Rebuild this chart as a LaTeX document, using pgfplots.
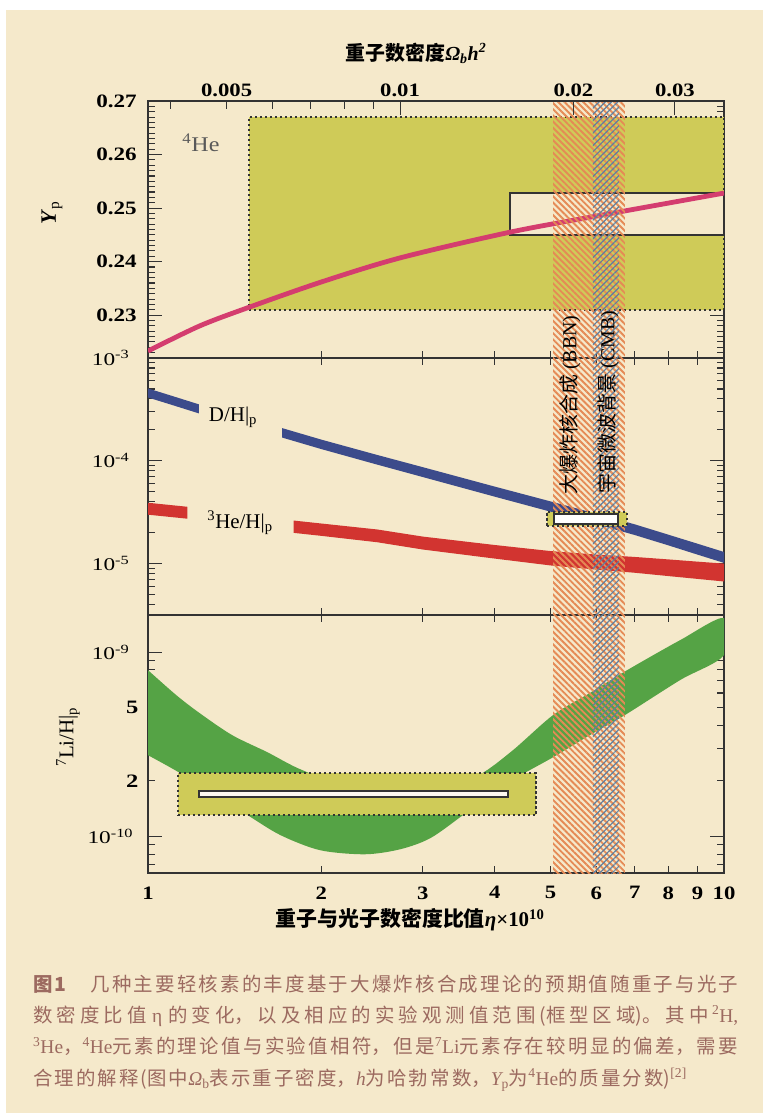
\documentclass[border=0pt]{standalone}
\usepackage{fontspec}
\setmainfont{Liberation Serif}
\newfontfamily\cjk{Noto Sans CJK SC}
\usepackage{pgfplots}
\pgfplotsset{compat=1.18}
\usetikzlibrary{patterns.meta}
\XeTeXlinebreaklocale "zh"
\XeTeXlinebreakskip=2.1bp plus 3bp minus 1bp
\definecolor{bg}{HTML}{F5E9CB}
\definecolor{ybox}{HTML}{CFCB58}
\definecolor{lgreen}{HTML}{55A345}
\definecolor{pinkc}{HTML}{D43D6F}
\definecolor{dhblue}{HTML}{3C4B8B}
\definecolor{hered}{HTML}{D23430}
\definecolor{hatchor}{HTML}{E58A55}
\definecolor{hatchbl}{HTML}{5F7FA0}
\definecolor{captc}{HTML}{9C6A60}
\definecolor{axc}{HTML}{333333}
\newcommand\fs[1]{\fontsize{#1}{#1}\selectfont}
\tikzset{
  myboxd/.style={draw=axc, line width=1.7bp, dash pattern=on 2.2bp off 2.8bp, fill=ybox},
  myboxs/.style={draw=axc, line width=1.6bp},
}
\begin{document}
\begin{tikzpicture}
\fill[white] (0,0) rectangle (763bp,-1118bp);
\fill[bg] (6bp,-10bp) rectangle (763bp,-1113bp);

% ---------- panel 1 : Yp
\begin{axis}[scale only axis, width=576bp, height=257bp, anchor=north west, at={(148bp,-101bp)},
  xmode=log, xmin=1, xmax=10,
  axis line style={axc, line width=1.4bp}, tick style={axc, line width=1.1bp},
  tick align=inside, major tick length=14bp, minor tick length=7bp,
  xtick={1,10}, xticklabels={}, minor xtick={2,3,4,5,6,7,8,9}, xtick pos=left,
  ymin=0.222, ymax=0.27,
  ytick={0.23,0.24,0.25,0.26,0.27}, yticklabels={0.23,0.24,0.25,0.26,0.27},
  minor ytick={0.223,0.224,0.225,0.226,0.227,0.228,0.229,0.231,0.232,0.233,0.234,0.235,0.236,0.237,0.238,0.239,0.241,0.242,0.243,0.244,0.245,0.246,0.247,0.248,0.249,0.251,0.252,0.253,0.254,0.255,0.256,0.257,0.258,0.259,0.261,0.262,0.263,0.264,0.265,0.266,0.267,0.268,0.269},
  yticklabel style={font=\bfseries\fs{19}, xshift=-7bp, xscale=1.22}]
\addplot[myboxd] coordinates {(1.497,0.231) (10,0.231) (10,0.267) (1.497,0.267)} -- cycle;
\addplot[myboxs, fill=bg] coordinates {(4.25,0.245) (10,0.245) (10,0.2528) (4.25,0.2528)} -- cycle;
\addplot[pinkc, line width=4.8bp, smooth] coordinates {(1,0.2233) (1.23,0.2280) (1.5,0.2315) (2,0.2362) (2.74,0.2407) (4.25,0.2455) (6,0.2485) (10,0.2528)};
\end{axis}

% ---------- panel 2 : D/H, 3He/H
\begin{axis}[scale only axis, width=576bp, height=257bp, anchor=north west, at={(148bp,-358bp)},
  xmode=log, xmin=1, xmax=10,
  axis line style={axc, line width=1.4bp}, tick style={axc, line width=1.1bp},
  tick align=inside, major tick length=14bp, minor tick length=7bp,
  xtick={1,10}, xticklabels={}, minor xtick={2,3,4,5,6,7,8,9},
  ymode=log, ymin=3.162e-6, ymax=1e-3,
  ytick={1e-5,1e-4,1e-3},
  yticklabels={10\textsuperscript{-5},10\textsuperscript{-4},10\textsuperscript{-3}},
  minor ytick={4e-6,5e-6,6e-6,7e-6,8e-6,9e-6,2e-5,3e-5,4e-5,5e-5,6e-5,7e-5,8e-5,9e-5,2e-4,3e-4,4e-4,5e-4,6e-4,7e-4,8e-4,9e-4},
  yticklabel style={font=\fs{18}, xshift=-14bp, xscale=1.3}]
\addplot[draw=none, fill=dhblue] coordinates {(1,5.058e-4) (1.1,4.285e-4) (1.226,3.540e-4) (1.226,2.891e-4) (1.1,3.499e-4) (1,4.130e-4)} -- cycle;
\addplot[draw=none, fill=dhblue] coordinates {(1.71,2.080e-4) (2,1.607e-4) (2.5,1.140e-4) (3,8.670e-5) (4,5.610e-5) (5,4.027e-5) (6,3.062e-5) (7,2.410e-5) (8,1.914e-5) (9,1.560e-5) (10,1.297e-5)
 (10,1.016e-5) (9,1.222e-5) (8,1.507e-5) (7,1.897e-5) (6,2.421e-5) (5,3.199e-5) (4,4.477e-5) (3,6.950e-5) (2.5,9.183e-5) (2,1.300e-4) (1.71,1.683e-4)} -- cycle;
\addplot[draw=none, fill=hered] coordinates {(1,3.908e-5) (1.17,3.573e-5) (1.17,2.735e-5) (1,2.992e-5)} -- cycle;
\addplot[draw=none, fill=hered] coordinates {(1.79,2.624e-5) (2,2.455e-5) (2.5,2.148e-5) (3,1.832e-5) (4,1.517e-5) (5,1.324e-5) (6,1.225e-5) (7,1.161e-5) (8,1.099e-5) (9,1.045e-5) (10,1.000e-5)
 (10,6.699e-6) (9,7.096e-6) (8,7.568e-6) (7,8.147e-6) (6,8.750e-6) (5,9.594e-6) (4,1.119e-5) (3,1.371e-5) (2.5,1.614e-5) (2,1.862e-5) (1.79,1.991e-5)} -- cycle;
\end{axis}

% ---------- panel 3 : 7Li/H
\begin{axis}[scale only axis, width=576bp, height=258bp, anchor=north west, at={(148bp,-615bp)},
  xmode=log, xmin=1, xmax=10,
  axis line style={axc, line width=1.4bp}, tick style={axc, line width=1.1bp},
  tick align=inside, major tick length=14bp, minor tick length=7bp,
  xtick={1,10}, xticklabels={}, minor xtick={2,3,4,5,6,7,8,9},
  ymode=log, ymin=6.31e-11, ymax=1.59e-9,
  ytick={1e-10,1e-9},
  yticklabels={10\textsuperscript{-10}\hspace*{4bp},10\textsuperscript{-9}\hspace*{7bp}},
  extra y ticks={2e-10,5e-10}, extra y tick labels={\textbf{\fs{19}2},\textbf{\fs{19}5}},
  extra y tick style={major tick length=7bp},
  minor ytick={7e-11,8e-11,9e-11,2e-10,3e-10,4e-10,6e-10,7e-10,8e-10,9e-10},
  yticklabel style={font=\fs{18}, xshift=-5bp, xscale=1.3}]
\addplot[draw=none, fill=lgreen, smooth] coordinates {(1,7.980e-10) (1.12,5.834e-10) (1.23,4.656e-10) (1.40,3.540e-10) (1.61,2.864e-10) (1.74,2.512e-10) (1.85,2.291e-10) (2.15,1.905e-10) (2.63,1.698e-10) (3.21,1.778e-10) (3.77,2.163e-10) (4.30,2.931e-10) (5.05,4.550e-10) (5.85,5.998e-10) (6.73,7.852e-10) (8.39,1.161e-9) (10,1.531e-9)
 (10,9.638e-10) (8.39,7.047e-10) (6.73,4.550e-10) (5.85,3.540e-10) (5.05,2.685e-10) (4.08,1.845e-10) (3.52,1.300e-10) (3.09,9.750e-11) (2.74,8.492e-11) (2.38,7.980e-11) (1.99,8.395e-11) (1.70,1.012e-10) (1.49,1.300e-10) (1.31,1.671e-10) (1.13,2.228e-10) (1,2.754e-10)} -- cycle;
\addplot[myboxd] coordinates {(1.127,1.30e-10) (4.72,1.30e-10) (4.72,2.198e-10) (1.127,2.198e-10)} -- cycle;
\addplot[myboxs, fill=white!70!bg] coordinates {(1.226,1.629e-10) (4.22,1.629e-10) (4.22,1.758e-10) (1.226,1.758e-10)} -- cycle;
\end{axis}

% ---------- hatched BBN / CMB bands across all panels
\begin{axis}[scale only axis, width=576bp, height=772bp, anchor=north west, at={(148bp,-101bp)},
  xmode=log, xmin=1, xmax=10, ymin=0, ymax=1, hide axis]
\addplot[draw=none, pattern={Lines[angle=-45,distance=4.4bp,line width=1.9bp]}, pattern color=hatchor] coordinates {(5.05,0) (6.73,0) (6.73,1) (5.05,1)} -- cycle;
\addplot[draw=none, pattern={Lines[angle=45,distance=4.4bp,line width=1.2bp]}, pattern color=hatchbl] coordinates {(5.92,0) (6.57,0) (6.57,1) (5.92,1)} -- cycle;
\end{axis}

% ---------- D/H observed box (above hatch)
\begin{axis}[scale only axis, width=576bp, height=257bp, anchor=north west, at={(148bp,-358bp)},
  xmode=log, xmin=1, xmax=10, ymode=log, ymin=3.162e-6, ymax=1e-3, hide axis]
\addplot[myboxd] coordinates {(4.93,2.339e-5) (6.78,2.339e-5) (6.78,3.199e-5) (4.93,3.199e-5)} -- cycle;
\addplot[myboxs, fill=white] coordinates {(5.07,2.443e-5) (6.55,2.443e-5) (6.55,3.055e-5) (5.07,3.055e-5)} -- cycle;
\end{axis}

% ---------- bottom eta labels
\begin{axis}[scale only axis, width=576bp, height=258bp, anchor=north west, at={(148bp,-615bp)},
  xmode=log, xmin=1, xmax=10, ymin=0, ymax=1,
  hide y axis, axis x line*=bottom, x axis line style={draw opacity=0},
  major tick length=0bp, xtick={1,2,3,4,5,6,7,8,9,10}, xticklabels={1,2,3,4,5,6,7,8,9,10},
  xticklabel style={font=\bfseries\fs{19}, yshift=-10bp, xscale=1.2}]
\end{axis}

% ---------- top Omega_b h^2 axis
\begin{axis}[scale only axis, width=576bp, height=257bp, anchor=north west, at={(148bp,-101bp)},
  xmode=log, xmin=1, xmax=10, ymin=0, ymax=1,
  hide y axis, axis x line*=top, x axis line style={axc, line width=1.4bp},
  tick align=inside, tick style={axc, line width=1.1bp},
  major tick length=14bp, minor tick length=8bp,
  xtick={2.739,5.478,8.217}, xticklabels={0.01,0.02,0.03},
  extra x ticks={1.3695}, extra x tick labels={0.005}, extra x tick style={major tick length=8bp},
  minor xtick={1.0956,1.6434,1.9173,2.1912,2.4651},
  xticklabel style={font=\bfseries\fs{19}, yshift=1bp, xscale=1.2}]
\end{axis}

% ---------- texts
\node[text=black!65, xscale=1.15] at (201bp,-143bp) {\fs{21}\textsuperscript{4}He};
\node at (233bp,-417bp) {\fs{21}D/H|\textsubscript{p}};
\node at (240bp,-523bp) {\fs{21}\textsuperscript{3}He/H|\textsubscript{p}};
\node[rotate=90] at (52bp,-213bp) {\fs{22}\textbf{\textit{Y}}\textsubscript{p}};
\node[rotate=90] at (68bp,-737bp) {\fs{21}\textsuperscript{7}Li/H|\textsubscript{p}};
\node at (410bp,-920bp) {\cjk\bfseries\fs{21}重子与光子数密度比值{\rmfamily\bfseries\itshape η}{\rmfamily\bfseries ×10\textsuperscript{10}}};
\node at (416bp,-53bp) {\cjk\bfseries\fs{20}重子数密度{\rmfamily\bfseries\itshape Ω\textsubscript{b}h\textsuperscript{2}}};
\node[rotate=90] at (570bp,-405bp) {\fs{20}{\cjk 大爆炸核合成} (BBN)};
\node[rotate=90] at (608bp,-402bp) {\fs{20}{\cjk 宇宙微波背景} (CMB)};

% ---------- caption
\node[anchor=base west, inner sep=0, text=captc, text width=705bp, align=justify] at (33bp,-991bp) {\cjk\fontsize{19.5}{31.5}\selectfont{\bfseries 图1}\hspace{24bp}几种主要轻核素的丰度基于大爆炸核合成理论的预期值随重子与光子\linebreak
数密度比值 {\rmfamily η} 的变化，以及相应的实验观测值范围(框型区域)。其中{\rmfamily\,\textsuperscript{2}H,}\linebreak
{\rmfamily\textsuperscript{3}He}，{\rmfamily\textsuperscript{4}He}元素的理论值与实验值相符，但是{\rmfamily\textsuperscript{7}Li}元素存在较明显的偏差，需要\linebreak
合理的解释(图中{\rmfamily\itshape Ω}{\rmfamily\textsubscript{b}}表示重子密度，{\rmfamily\itshape h}为哈勃常数，{\rmfamily\itshape Y}{\rmfamily\textsubscript{p}}为{\rmfamily\textsuperscript{4}He}的质量分数){\rmfamily\textsuperscript{[2]}}\par};

\pgfresetboundingbox
\useasboundingbox (0,0) rectangle (763bp,-1118bp);
\end{tikzpicture}
\end{document}
